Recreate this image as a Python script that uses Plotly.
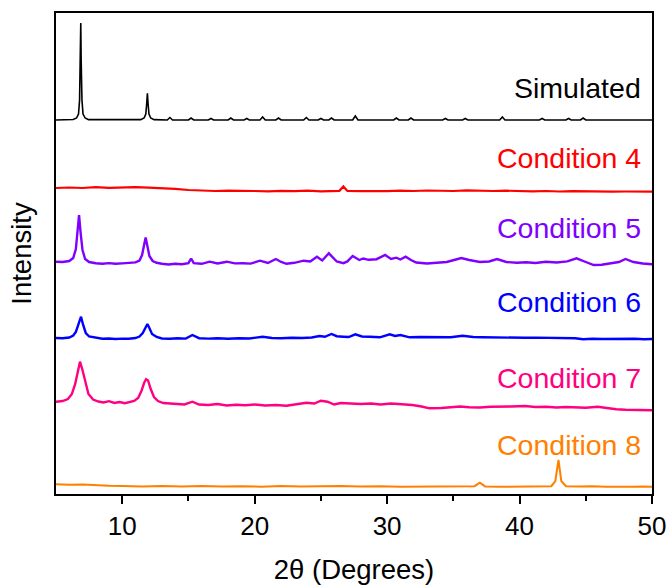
import plotly.graph_objects as go

# ---------------- data ----------------
series_names = ["Simulated", "Condition 4", "Condition 5", "Condition 6", "Condition 7", "Condition 8"]

sim_2theta = [5.0, 6.3, 6.55, 6.7, 6.78, 6.84, 6.87, 6.9, 6.96, 7.04, 7.2, 7.45,
              11.4, 11.65, 11.78, 11.84, 11.9, 11.96, 12.02, 12.15, 12.4,
              13.4, 13.6, 13.8, 15.0, 15.2, 15.4, 16.5, 16.7, 16.9, 18.0, 18.2, 18.4,
              19.2, 19.4, 19.6, 20.4, 20.6, 20.8, 21.6, 21.8, 22.0, 23.7, 23.9, 24.1,
              24.8, 25.0, 25.2, 25.6, 25.8, 26.0, 27.4, 27.6, 27.8, 30.5, 30.7, 30.9,
              31.6, 31.8, 32.0, 34.2, 34.4, 34.6, 35.7, 35.9, 36.1, 38.5, 38.7, 38.9,
              41.5, 41.7, 41.9, 43.5, 43.7, 43.9, 44.6, 44.8, 45.0, 50.0]
sim_int = [0, 0.5, 2, 6, 20, 60, 97, 60, 20, 6, 2, 0.4,
           0.4, 2, 6, 15, 26.7, 15, 6, 2, 0.4,
           0, 2.5, 0, 0, 2, 0, 0, 1.5, 0, 0, 2, 0,
           0, 1.5, 0, 0, 3, 0, 0, 2, 0, 0, 2.5, 0,
           0, 1.5, 0, 0, 2, 0, 0, 4, 0, 0, 2, 0,
           0, 2, 0, 0, 1.5, 0, 0, 1.5, 0, 0, 3, 0,
           0, 1.5, 0, 0, 1.5, 0, 0, 2, 0, 0]

c4_2theta = [5, 6, 7, 8, 9, 10, 11, 12, 13, 14, 15, 16, 17, 18, 19, 20, 21, 22, 23, 24, 25, 26,
             26.4, 26.7, 27.0,
             28, 29, 30, 31, 32, 33, 34, 35, 36, 37, 38, 39, 40, 41, 42, 43, 44, 45, 46, 47, 48, 49, 50]
c4_int = [6.0, 6.5, 6.0, 6.8, 6.2, 6.5, 6.8, 6.3, 6.0, 5.2,
          4.0, 3.4, 3.0, 3.3, 2.8, 3.0, 2.6, 3.2, 2.9, 3.4, 2.7, 3.0,
          3.2, 7.5, 3.0,
          2.8, 2.5, 2.9, 3.3, 3.0, 3.5, 3.2, 3.0, 3.6, 3.2, 3.0, 3.3, 2.8, 2.6, 3.0, 2.5, 2.8, 2.4, 2.6, 2.3, 2.5, 2.2, 2.4]

c5_2theta = [5.0, 5.5, 6.0, 6.3, 6.5, 6.62, 6.74, 6.86, 7.0, 7.2,
             7.5, 8.0, 8.5, 9.0, 9.5, 10.0, 10.5, 11.0, 11.3, 11.5,
             11.65, 11.77, 11.9, 12.05, 12.3, 12.6, 13.0, 13.5, 14.0, 14.5,
             15.0, 15.2, 15.4, 16.0, 16.6, 17.2, 17.9, 18.5, 19.1, 19.7,
             20.4, 21.0, 21.6, 22.0, 22.4, 23.0, 23.7, 24.2, 24.7, 25.1,
             25.6, 26.2, 26.7, 27.0, 27.4, 27.9, 28.2, 28.6, 29.2, 29.85,
             30.3, 30.7, 31.0, 31.4, 31.8, 32.2, 33.0, 33.8, 34.5, 35.2,
             35.6, 36.2, 37.0, 37.7, 38.3, 39.0, 39.8, 40.5, 41.2, 42.0,
             42.8, 43.6, 44.3, 45.0, 45.6, 46.2, 47.0, 47.5, 48.0, 48.6,
             49.3, 50.0]
c5_int = [2.3, 2.0, 3.0, 6.0, 15.0, 32.0, 49.0, 31.0, 14.0, 5.0,
          2.0, 0.8, 0.3, 0.9, 0.2, 0.6, 0.8, 1.6, 3.5, 9.0,
          19.0, 26.5, 18.0, 8.0, 3.0, 1.2, 0.3, -0.5, 0.2, -0.3,
          0.8, 5.5, 0.9, 0.2, 2.3, 0.5, 2.3, 0.6, 0.7, 0.4,
          3.3, 1.0, 5.0, 2.0, 0.2, 1.2, 3.3, 2.5, 7.3, 3.5,
          10.7, 2.5, 0.8, 2.6, 8.0, 4.0, 5.5, 4.2, 4.8, 9.0,
          5.0, 6.3, 4.5, 7.3, 4.0, 1.5, 0.5, 1.2, 2.0, 4.5,
          6.0, 4.0, 2.0, 2.5, 5.0, 2.0, 1.2, 1.8, 1.0, 2.2,
          1.5, 2.6, 5.7, 2.0, -1.0, -0.8, 1.0, 2.0, 5.0, 2.0,
          0.5, -0.3]

c6_2theta = [5.0, 5.5, 6.0, 6.3, 6.5, 6.7, 6.89, 7.05, 7.25, 7.5,
             8.0, 8.5, 9.0, 9.5, 10.0, 10.5, 11.0, 11.3, 11.55, 11.75,
             11.9, 12.05, 12.25, 12.6, 13.0, 13.6, 14.2, 14.8, 15.3, 15.8,
             16.5, 17.2, 18.0, 18.8, 19.6, 20.6, 21.3, 22.0, 22.8, 23.6,
             24.3, 24.9, 25.3, 25.8, 26.2, 26.7, 27.1, 27.6, 28.1, 28.7,
             29.45, 30.2, 30.6, 31.0, 31.7, 32.5, 33.3, 34.0, 34.8, 35.7,
             36.5, 37.2, 38.0, 38.8, 39.6, 40.4, 41.2, 42.0, 42.8, 43.6,
             44.2, 44.8, 45.5, 46.3, 47.1, 47.9, 48.7, 49.4, 50.0]
c6_int = [0.0, -0.3, 0.5, 2.5, 6.0, 14.0, 21.3, 13.0, 5.0, 1.5,
          0.0, -0.8, -0.5, -1.0, -0.6, -0.8, 0.0, 1.5, 5.0, 11.0,
          14.0, 10.0, 4.0, 1.0, -0.5, -0.8, -0.3, -0.6, 3.0, -0.2,
          -0.6, -0.2, -0.7, -0.3, -0.5, 1.3, 0.0, -0.2, 0.3, 0.0,
          0.5, 2.0, 1.2, 4.0, 1.8, 1.3, 1.0, 3.7, 1.5, 1.3,
          0.7, 3.7, 2.0, 3.0, 0.7, 1.0, 0.8, 1.2, 0.8, 2.3,
          1.0, 0.8, 0.5, 0.3, 0.6, 0.2, 0.4, 0.3, 0.0, 0.2,
          -0.3, -1.3, -0.8, -1.0, -0.7, -1.0, -0.8, -1.2, -1.0]

c7_2theta = [5.0, 5.5, 5.9, 6.2, 6.45, 6.65, 6.81, 6.98, 7.2, 7.45,
             7.8, 8.2, 8.6, 9.0, 9.4, 9.8, 10.2, 10.6, 10.9, 11.2,
             11.45, 11.65, 11.8, 11.95, 12.15, 12.4, 12.7, 13.1, 13.6, 14.1,
             14.7, 15.3, 15.8, 16.5, 17.2, 17.9, 18.6, 19.3, 20.0, 20.8,
             21.6, 22.4, 23.2, 23.9, 24.5, 25.0, 25.5, 26.0, 26.5, 27.0,
             27.4, 28.0, 28.8, 29.5, 30.3, 31.0, 31.9, 32.6, 33.2, 34.1,
             34.8, 35.5, 36.2, 37.0, 37.8, 38.6, 39.4, 40.4, 41.2, 42.0,
             42.8, 43.5, 44.2, 45.0, 45.9, 46.6, 47.3, 48.0, 48.8, 49.5, 50.0]
c7_int = [0.3, 1.0, 3.0, 8.0, 18.0, 32.0, 40.3, 33.0, 20.0, 8.0,
          2.5, 0.5, -0.5, 0.8, -1.0, 0.0, -1.2, 0.3, 1.0, 4.0,
          11.0, 19.0, 22.7, 21.5, 13.0, 5.0, 1.0, -1.0, -1.5, -2.0,
          -2.5, 0.3, -2.5, -3.0, -2.0, -3.5, -2.8, -3.2, -2.5, -3.5,
          -3.0, -3.8, -2.0, -0.7, -1.5, 1.3, 0.3, -2.5, -1.0, -1.3,
          -1.0, -2.0, -1.5, -2.5, -1.5, -2.0, -3.0, -4.5, -6.3, -6.0,
          -5.0, -4.5, -5.2, -5.5, -4.8, -5.0, -4.5, -4.0, -5.0, -4.8,
          -5.5, -5.0, -5.3, -5.8, -4.7, -6.3, -7.3, -7.8, -8.2, -8.5, -8.3]

c8_2theta = [5.0, 6.0, 7.0, 8.0, 9.0, 10.0, 11.5, 13.0, 14.5, 16.0,
             17.5, 19.0, 20.5, 22.0, 23.5, 25.0, 26.5, 28.0, 29.5, 31.0,
             32.5, 34.0, 35.5, 36.6, 37.0, 37.4, 38.5, 40.0, 41.5, 42.4,
             42.7, 42.94, 43.15, 43.5, 44.5, 45.5, 46.5, 47.5, 48.5, 49.3, 50.0]
c8_int = [2.8, 2.2, 2.5, 1.6, 1.2, 1.0, 0.6, 1.1, 0.5, 0.9,
          0.4, 0.8, 0.3, 0.9, 0.4, 0.7, 1.0, 0.5, 0.8, 0.3,
          0.6, 0.2, 0.7, 0.8, 4.3, 0.6, 0.2, 0.5, 0.3, 0.8,
          6.0, 27.0, 6.0, 0.8, 0.4, 0.7, 0.2, 0.6, 0.3, 0.5, 0.2]

# vertical stacking offsets of each pattern (a.u.)
stack_offsets = [374, 300, 230, 156, 92, 7]

x_ticks = [10, 20, 30, 40, 50]

# ---------------- styling ----------------
colors = ["#000000", "#FF0000", "#8000FF", "#0000FF", "#FF0080", "#FF8000"]
widths = [1.6, 2.2, 2.4, 2.4, 2.4, 2.0]
label_y = [406, 336, 266, 192, 116, 49]
FONT = "Liberation Sans, Arial, sans-serif"

xs = [sim_2theta, c4_2theta, c5_2theta, c6_2theta, c7_2theta, c8_2theta]
ys = [sim_int, c4_int, c5_int, c6_int, c7_int, c8_int]

fig = go.Figure()
for name, x, y, off, col, w in zip(series_names, xs, ys, stack_offsets, colors, widths):
    fig.add_trace(go.Scatter(
        x=x, y=[v + off for v in y], mode="lines", name=name,
        line=dict(color=col, width=w, shape="linear"),
        showlegend=False, hoverinfo="skip"))

for name, ly, col in zip(series_names, label_y, colors):
    fig.add_annotation(x=49.35, y=ly, xref="x", yref="y", text=name,
                       showarrow=False, xanchor="right", yanchor="middle",
                       font=dict(family=FONT, size=28.5, color=col))

fig.update_layout(
    width=672, height=586,
    margin=dict(l=56, r=20, t=13, b=92, pad=0),
    paper_bgcolor="white", plot_bgcolor="white",
    font=dict(family=FONT, size=26, color="black"),
)
fig.update_xaxes(
    range=[5, 50], tickvals=x_ticks, ticks="outside", ticklen=8, tickwidth=2,
    tickcolor="black", showline=True, linewidth=2, linecolor="black", mirror=True,
    showgrid=False, zeroline=False, automargin=False,
    tickfont=dict(family=FONT, size=26),
    minor=dict(ticks="outside", tickvals=[15, 25, 35, 45], ticklen=5, tickwidth=2, tickcolor="black"),
    title=dict(text="2θ (Degrees)", font=dict(family=FONT, size=27.5), standoff=20),
)
fig.update_yaxes(
    range=[0, 481], showticklabels=False, ticks="", showline=True, linewidth=2,
    linecolor="black", mirror=True, showgrid=False, zeroline=False, automargin=False,
    title=dict(text="Intensity", font=dict(family=FONT, size=27.5), standoff=14),
)

fig.write_html("out.html")
